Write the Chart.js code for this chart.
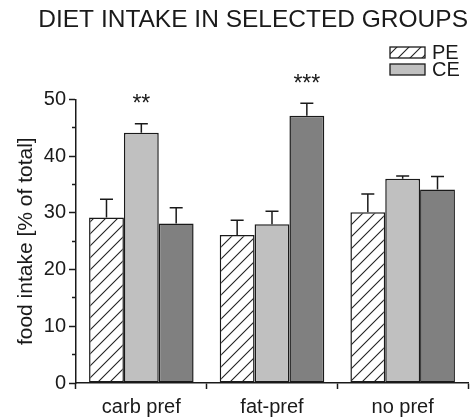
<!DOCTYPE html>
<html>
<head>
<meta charset="utf-8">
<script src="https://cdn.jsdelivr.net/npm/chart.js@4.4.0/dist/chart.umd.min.js"></script>
<style>
  html, body { margin: 0; padding: 0; background: #fff; }
  #wrap { width: 470px; height: 418px; }
</style>
</head>
<body>
<div id="wrap"><canvas id="dietChart" width="470" height="418"></canvas></div>
<script>
// Diet intake (% of total) per preference group
const groups = ["carb pref", "fat-pref", "no pref"];
const peValues = [29.2, 26.1, 30.1];
const peErrors = [3.2, 2.6, 3.2];
const ceValues = [44.1, 28.0, 36.0];
const ceErrors = [1.6, 2.3, 0.5];
const thirdValues = [28.1, 47.1, 34.1];
const thirdErrors = [2.8, 2.2, 2.3];
// significance marks above bars
const ceStars = ["**", "", ""];
const thirdStars = ["", "***", ""];

const FONT = "'Liberation Sans', Arial, sans-serif";
const INK = "#1a1a1a";

// hatched fill for PE bars
function makeHatch() {
    const s = 12;
    const c = document.createElement("canvas");
    c.width = s; c.height = s;
    const g = c.getContext("2d");
    g.fillStyle = "#fff";
    g.fillRect(0, 0, s, s);
    g.strokeStyle = "#222";
    g.lineWidth = 1.1;
    g.beginPath();
    g.moveTo(0, s); g.lineTo(s, 0);
    g.moveTo(-s / 2, s / 2); g.lineTo(s / 2, -s / 2);
    g.moveTo(s / 2, s * 1.5); g.lineTo(s * 1.5, s / 2);
    g.stroke();
    return g.createPattern(c, "repeat");
}
const hatch = makeHatch();

// error bars (upper only) and star labels
const errorBars = {
    id: "errorBars",
    afterDatasetsDraw(chart) {
        const ctx = chart.ctx;
        const y = chart.scales.y;
        ctx.save();
        ctx.strokeStyle = INK;
        ctx.lineWidth = 1.5;
        chart.data.datasets.forEach((ds, i) => {
            const meta = chart.getDatasetMeta(i);
            meta.data.forEach((bar, j) => {
                const top = y.getPixelForValue(ds.data[j] + ds.errors[j]);
                ctx.beginPath();
                ctx.moveTo(bar.x, bar.y);
                ctx.lineTo(bar.x, top);
                ctx.moveTo(bar.x - 6.5, top);
                ctx.lineTo(bar.x + 6.5, top);
                ctx.stroke();
                if (ds.stars && ds.stars[j]) {
                    ctx.fillStyle = INK;
                    ctx.font = "23px " + FONT;
                    ctx.textAlign = "center";
                    ctx.textBaseline = "middle";
                    ctx.fillText(ds.stars[j], bar.x, top - 19);
                }
            });
        });
        ctx.restore();
    }
};

// small legend in the top right corner (PE / CE only)
const cornerLegend = {
    id: "cornerLegend",
    afterDraw(chart) {
        const ctx = chart.ctx;
        const items = chart.data.datasets.filter(ds => ds.inLegend);
        ctx.save();
        items.forEach((ds, k) => {
            const top = 47 + k * 17;
            ctx.fillStyle = ds.backgroundColor;
            ctx.fillRect(390, top, 35, 11);
            ctx.strokeStyle = INK;
            ctx.lineWidth = 1.3;
            ctx.strokeRect(390, top, 35, 11);
            ctx.fillStyle = INK;
            ctx.font = "20px " + FONT;
            ctx.textAlign = "left";
            ctx.textBaseline = "middle";
            ctx.fillText(ds.label, 432, top + 6);
        });
        ctx.restore();
    }
};

new Chart(document.getElementById("dietChart"), {
    type: "bar",
    data: {
        labels: groups,
        datasets: [
            { label: "PE", data: peValues, errors: peErrors, backgroundColor: hatch, inLegend: true },
            { label: "CE", data: ceValues, errors: ceErrors, stars: ceStars, backgroundColor: "#c0c0c0", inLegend: true },
            { label: "", data: thirdValues, errors: thirdErrors, stars: thirdStars, backgroundColor: "#808080", inLegend: false }
        ].map(ds => Object.assign(ds, {
            borderColor: INK,
            borderWidth: 1.5,
            borderSkipped: false,
            categoryPercentage: 0.8,
            barPercentage: 1.0
        }))
    },
    options: {
        responsive: false,
        animation: false,
        devicePixelRatio: 1,
        layout: { padding: { left: 0, right: 2, top: 0, bottom: 0 } },
        plugins: {
            legend: { display: false },
            tooltip: { enabled: false },
            title: {
                display: true,
                text: "DIET INTAKE IN SELECTED GROUPS",
                align: "end",
                color: INK,
                font: { family: FONT, size: 24.5, weight: "normal" },
                padding: { top: 6, bottom: 64 }
            }
        },
        scales: {
            x: {
                offset: true,
                grid: { display: true, offset: true, drawOnChartArea: false, drawTicks: true, tickLength: 6, tickColor: INK, tickWidth: 1.5 },
                border: { display: true, color: INK, width: 1.5 },
                ticks: { color: INK, font: { family: FONT, size: 20 }, padding: 6, maxRotation: 0 },
                afterFit: (s) => { s.height = 35; }
            },
            y: {
                min: 0,
                max: 50,
                grid: {
                    display: true,
                    drawOnChartArea: false,
                    drawTicks: true,
                    tickLength: 7,
                    tickColor: INK,
                    tickWidth: 1.5,
                    tickBorderDash: (c) => (c.tick && c.tick.value % 10 !== 0) ? [0, 3, 4, 20] : []
                },
                border: { display: true, color: INK, width: 1.5 },
                ticks: {
                    stepSize: 5,
                    color: INK,
                    padding: 3,
                    font: { family: FONT, size: 20 },
                    callback: (v) => (v % 10 === 0 ? v : "")
                },
                title: {
                    display: true,
                    text: "food intake [% of total]",
                    color: INK,
                    font: { family: FONT, size: 21 },
                    padding: { top: 14, bottom: 0 }
                },
                afterFit: (s) => { s.width = 76; }
            }
        }
    },
    plugins: [errorBars, cornerLegend]
});
</script>
</body>
</html>
